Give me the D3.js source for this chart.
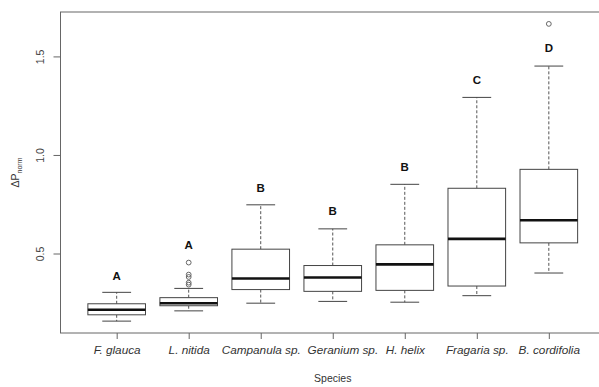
<!DOCTYPE html>
<html>
<head>
<meta charset="utf-8">
<script src="https://cdn.jsdelivr.net/npm/d3@7"></script>
<style>
  body { margin: 0; background: #fff; }
  text { font-family: "Liberation Sans", Arial, sans-serif; }
</style>
</head>
<body>
<svg id="svg" width="599" height="387"></svg>
<script>
var svg = d3.select("#svg");

var species = ["F. glauca", "L. nitida", "Campanula sp.", "Geranium sp.", "H. helix", "Fragaria sp.", "B. cordifolia"];
var lowerWhisker = [0.157, 0.209, 0.248, 0.257, 0.253, 0.286, 0.401];
var q1 = [0.189, 0.235, 0.317, 0.308, 0.313, 0.335, 0.554];
var median = [0.215, 0.248, 0.373, 0.378, 0.445, 0.574, 0.669];
var q3 = [0.245, 0.276, 0.522, 0.439, 0.544, 0.831, 0.927];
var upperWhisker = [0.303, 0.323, 0.747, 0.625, 0.851, 1.292, 1.451];
var outliers = [[], [0.454, 0.393, 0.381, 0.352, 0.342], [], [], [], [], [1.665]];
var letters = ["A", "A", "B", "B", "B", "C", "D"];
var letterAt = [0.389, 0.542, 0.832, 0.715, 0.939, 1.382, 1.545];
var yTicks = [0.5, 1.0, 1.5];

var m = {left: 60.5, right: 605, top: 12, bottom: 333};

// R style: data range padded by 4%
var lo = d3.min(lowerWhisker), hi = d3.max(outliers.flat().concat(upperWhisker));
var pad = (hi - lo) * 0.04;

var x = d3.scalePoint().domain(species).range([m.left, m.right]).padding(0.78);
var y = d3.scaleLinear().domain([lo - pad, hi + pad]).range([m.bottom, m.top]);

var step = x.step();
var boxW = step * 0.8;
var capW = boxW * 0.5;

var data = species.map(function (s, i) {
  return {name: s, lw: lowerWhisker[i], q1: q1[i], med: median[i], q3: q3[i],
          uw: upperWhisker[i], out: outliers[i], letter: letters[i], la: letterAt[i]};
});

var g = svg.selectAll("g.box")
  .data(data)
  .enter()
  .append("g")
  .attr("class", "box")
  .attr("transform", function (d) { return "translate(" + x(d.name) + ",0)"; });

// whiskers
g.append("line")
  .attr("y1", function (d) { return y(d.q3); })
  .attr("y2", function (d) { return y(d.uw); })
  .attr("stroke", "#555").attr("stroke-dasharray", "3,2");
g.append("line")
  .attr("y1", function (d) { return y(d.q1); })
  .attr("y2", function (d) { return y(d.lw); })
  .attr("stroke", "#555").attr("stroke-dasharray", "3,2");

// caps
g.append("line")
  .attr("x1", -capW / 2).attr("x2", capW / 2)
  .attr("y1", function (d) { return y(d.uw); })
  .attr("y2", function (d) { return y(d.uw); })
  .attr("stroke", "#444");
g.append("line")
  .attr("x1", -capW / 2).attr("x2", capW / 2)
  .attr("y1", function (d) { return y(d.lw); })
  .attr("y2", function (d) { return y(d.lw); })
  .attr("stroke", "#444");

// boxes
g.append("rect")
  .attr("x", -boxW / 2)
  .attr("width", boxW)
  .attr("y", function (d) { return y(d.q3); })
  .attr("height", function (d) { return y(d.q1) - y(d.q3); })
  .attr("fill", "#fff")
  .attr("stroke", "#444");

// medians
g.append("line")
  .attr("x1", -boxW / 2).attr("x2", boxW / 2)
  .attr("y1", function (d) { return y(d.med); })
  .attr("y2", function (d) { return y(d.med); })
  .attr("stroke", "#111").attr("stroke-width", 2.6);

// outliers
g.selectAll("circle")
  .data(function (d) { return d.out; })
  .enter()
  .append("circle")
  .attr("cx", 0)
  .attr("cy", function (v) { return y(v); })
  .attr("r", 2.4)
  .attr("fill", "none")
  .attr("stroke", "#666");

// significance letters
g.append("text")
  .attr("y", function (d) { return y(d.la); })
  .attr("dy", "0.36em")
  .attr("text-anchor", "middle")
  .style("font-weight", "bold")
  .style("font-size", "11.5px")
  .attr("fill", "#111")
  .text(function (d) { return d.letter; });

// frame
svg.append("rect")
  .attr("x", m.left).attr("y", m.top)
  .attr("width", m.right - m.left).attr("height", m.bottom - m.top)
  .attr("fill", "none").attr("stroke", "#666");

// x axis
var xAxis = svg.append("g")
  .attr("transform", "translate(0," + m.bottom + ")")
  .call(d3.axisBottom(x).tickSize(6).tickSizeOuter(0));
xAxis.select(".domain").remove();
xAxis.selectAll(".tick line").attr("stroke", "#666");
xAxis.selectAll(".tick text")
  .attr("y", 13)
  .attr("x", function (d) { return d === "Geranium sp." ? 9 : 0; })
  .attr("fill", "#333")
  .style("font-size", "11px")
  .style("font-style", "italic")
  .style("font-family", "Liberation Sans, Arial, sans-serif")
  .attr("transform", "scale(1.07,1)");

// y axis
var yAxis = svg.append("g")
  .attr("transform", "translate(" + m.left + ",0)")
  .call(d3.axisLeft(y).tickValues(yTicks).tickFormat(d3.format(".1f")).tickSize(7));
yAxis.select(".domain").remove();
yAxis.selectAll(".tick line").attr("stroke", "#666");
yAxis.selectAll(".tick text")
  .attr("x", 0).attr("y", -17).attr("dy", 0)
  .attr("transform", "rotate(-90)")
  .style("text-anchor", "middle")
  .attr("fill", "#444")
  .style("font-size", "10.5px")
  .style("font-family", "Liberation Sans, Arial, sans-serif");

// axis titles
svg.append("text")
  .attr("x", (m.left + m.right) / 2)
  .attr("y", 382)
  .attr("text-anchor", "middle")
  .attr("fill", "#333")
  .style("font-size", "10.5px")
  .text("Species");

var yt = svg.append("text")
  .attr("transform", "translate(19," + ((m.top + m.bottom) / 2) + ") rotate(-90)")
  .attr("text-anchor", "middle")
  .attr("fill", "#333")
  .style("font-size", "10.5px");
yt.append("tspan").text("\u0394P");
yt.append("tspan").attr("dy", 3).style("font-size", "7px").text("norm");
</script>
</body>
</html>
